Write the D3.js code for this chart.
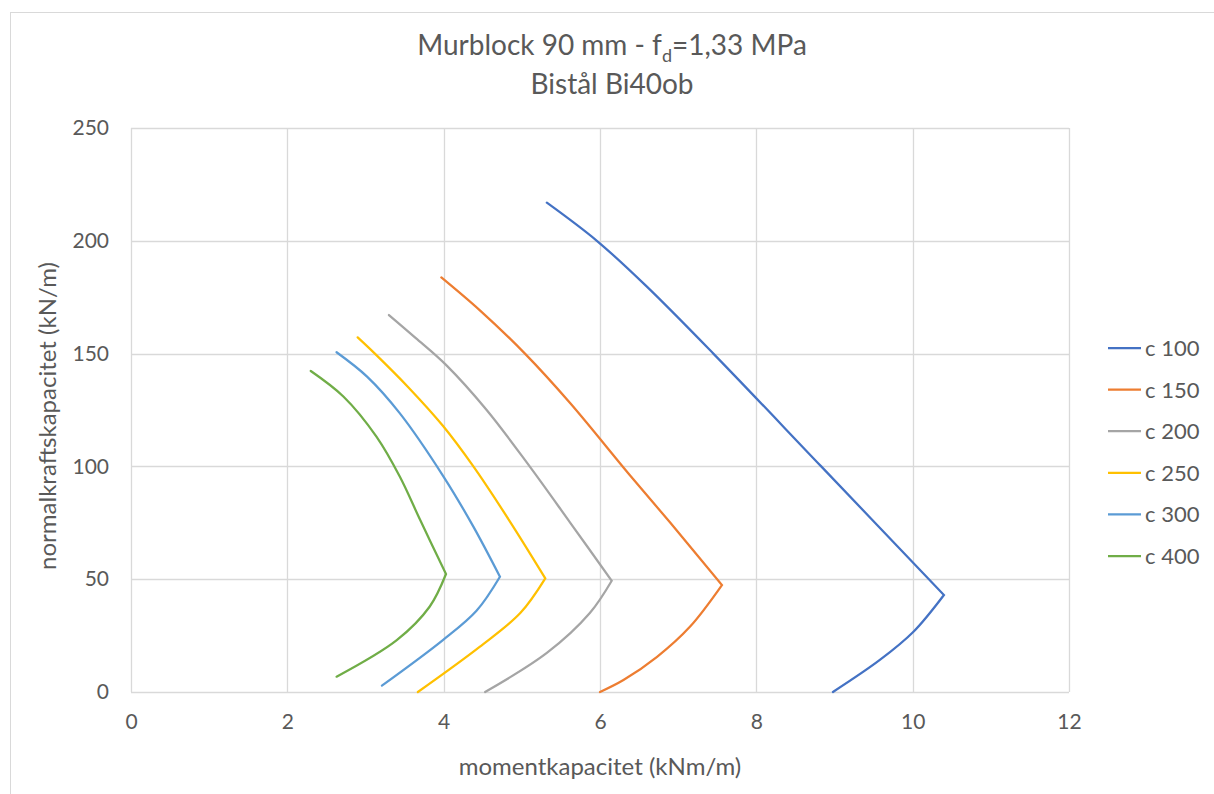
<!DOCTYPE html>
<html>
<head>
<meta charset="utf-8">
<script src="https://cdn.jsdelivr.net/npm/d3@7.9.0/dist/d3.min.js"></script>
<style>
  body { margin: 0; background: #fff; }
  svg { display: block; font-family: Lato, "Open Sans", sans-serif; }
</style>
</head>
<body>
<svg id="chart" width="1214" height="794"></svg>
<script>
// series names and colours
const seriesNames = ['c 100', 'c 150', 'c 200', 'c 250', 'c 300', 'c 400'];
const seriesColors = ['#4472C4', '#ED7D31', '#A5A5A5', '#FFC000', '#5B9BD5', '#70AD47'];

// [moment kNm/m, normal force kN/m], bottom -> peak -> top
const c100 = [[8.98, 0], [9.58, 14.2], [10.01, 26.7], [10.40, 43.0], [8.83, 100], [7.45, 150], [6.59, 180], [5.96, 200], [5.32, 216.9]];
const c150 = [[6.0, 0], [6.30, 5.3], [6.73, 15.6], [7.15, 28.9], [7.56, 47.4], [6.90, 75], [6.38, 96.2], [5.62, 128], [5.04, 150], [4.46, 169.3], [3.97, 183.8]];
const c200 = [[4.53, 0], [5.32, 17.3], [5.87, 35], [6.15, 49.3], [5.62, 75], [5.10, 100], [4.55, 125], [4.03, 145], [3.64, 157], [3.30, 167.1]];
const c250 = [[3.67, 0], [4.46, 20], [4.98, 35], [5.30, 50.4], [4.84, 76], [4.38, 100], [3.99, 118], [3.55, 135], [3.12, 150], [2.90, 157.2]];
const c300 = [[3.21, 2.8], [3.99, 23], [4.42, 36], [4.72, 51.1], [4.38, 73.3], [4.00, 95.4], [3.44, 123.5], [3.02, 139.8], [2.63, 150.6]];
const c400 = [[2.63, 6.8], [3.40, 23], [3.82, 37.8], [4.03, 52.3], [3.70, 76.2], [3.44, 95.4], [3.14, 113.2], [2.72, 130.9], [2.30, 142.3]];
const seriesData = [c100, c150, c200, c250, c300, c400];

const xTicks = [0, 2, 4, 6, 8, 10, 12];
const yTicks = [0, 50, 100, 150, 200, 250];

const svg = d3.select('#chart');
const textColor = '#595959';
const font = 'Lato, "Open Sans", sans-serif';

// chart frame
svg.append('rect')
  .attr('x', 10.5).attr('y', 12.5)
  .attr('width', 1220).attr('height', 800)
  .attr('fill', '#fff').attr('stroke', '#D9D9D9');

const x = d3.scaleLinear().domain([0, 12]).range([131, 1069]);
const y = d3.scaleLinear().domain([0, 250]).range([692, 128]);

// gridlines
svg.append('g').selectAll('line').data(yTicks).join('line')
  .attr('x1', x(0)).attr('x2', x(12))
  .attr('y1', d => Math.round(y(d)) + 0.5).attr('y2', d => Math.round(y(d)) + 0.5)
  .attr('stroke', '#D9D9D9').attr('stroke-width', 1.3);
svg.append('g').selectAll('line').data(xTicks).join('line')
  .attr('y1', y(0)).attr('y2', y(250))
  .attr('x1', d => Math.round(x(d)) + 0.5).attr('x2', d => Math.round(x(d)) + 0.5)
  .attr('stroke', '#D9D9D9').attr('stroke-width', 1.3);

// axes (labels only, Excel style)
const xAxis = svg.append('g').attr('transform', `translate(0,${y(0)})`)
  .call(d3.axisBottom(x).tickValues(xTicks).tickSize(0).tickPadding(22));
const yAxis = svg.append('g').attr('transform', `translate(${x(0)},0)`)
  .call(d3.axisLeft(y).tickValues(yTicks).tickSize(0).tickPadding(22));
[xAxis, yAxis].forEach(a => {
  a.select('.domain').remove();
  a.selectAll('text').attr('fill', textColor).style('font-size', '21px')
    .style('font-family', font);
});

// curves: each series drawn as a smooth lower branch and a smooth upper branch,
// meeting at the sharp peak
const branch = d3.line().x(d => x(d[0])).y(d => y(d[1])).curve(d3.curveCatmullRom.alpha(0.5));
function seriesPath(pts) {
  let peak = d3.maxIndex(pts, d => d[0]);
  let lower = branch(pts.slice(0, peak + 1));
  let upper = branch(pts.slice(peak));
  return lower + upper.replace(/^M[^CL]*/, '');
}
svg.append('g').selectAll('path').data(seriesData).join('path')
  .attr('d', seriesPath)
  .attr('fill', 'none')
  .attr('stroke', (d, i) => seriesColors[i])
  .attr('stroke-width', 2.25)
  .attr('stroke-linejoin', 'miter')
  .attr('stroke-linecap', 'round');

// title
const title = svg.append('text')
  .attr('x', 612).attr('y', 55)
  .attr('text-anchor', 'middle')
  .attr('fill', textColor).style('font-size', '28px');
title.append('tspan').text('Murblock 90 mm - f');
title.append('tspan').attr('dy', 7).style('font-size', '18px').text('d');
title.append('tspan').attr('dy', -7).text('=1,33 MPa');
svg.append('text')
  .attr('x', 612).attr('y', 94)
  .attr('text-anchor', 'middle')
  .attr('fill', textColor).style('font-size', '28px')
  .text('Bistål Bi40ob');

// axis titles
svg.append('text')
  .attr('x', 600).attr('y', 775)
  .attr('text-anchor', 'middle')
  .attr('fill', textColor).style('font-size', '24px')
  .text('momentkapacitet (kNm/m)');
svg.append('text')
  .attr('transform', 'translate(56,416) rotate(-90)')
  .attr('text-anchor', 'middle')
  .attr('fill', textColor).style('font-size', '24px')
  .text('normalkraftskapacitet  (kN/m)');

// legend
const legend = svg.append('g').attr('transform', 'translate(1108,348)');
const items = legend.selectAll('g').data(seriesNames).join('g')
  .attr('transform', (d, i) => `translate(0,${i * 41.6})`);
items.append('line')
  .attr('x1', 0).attr('x2', 33).attr('y1', 0).attr('y2', 0)
  .attr('stroke', (d, i) => seriesColors[i]).attr('stroke-width', 2.25);
items.append('text')
  .attr('x', 37).attr('y', 8)
  .attr('fill', textColor).style('font-size', '22px')
  .text(d => d);
</script>
</body>
</html>
